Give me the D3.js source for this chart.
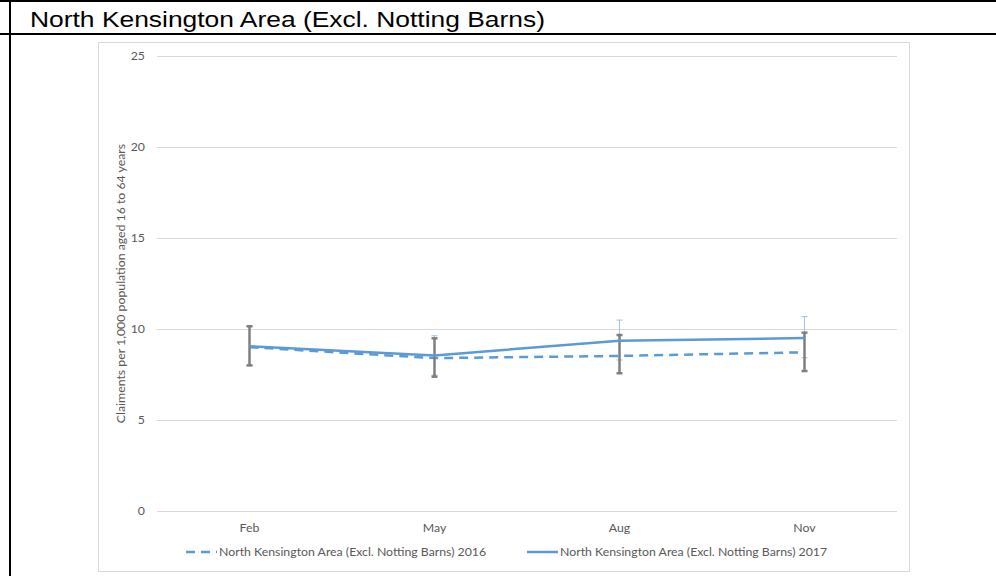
<!DOCTYPE html>
<html>
<head>
<meta charset="utf-8">
<script src="https://cdn.jsdelivr.net/npm/d3@7"></script>
<style>
  body { margin: 0; background: #fff; }
  svg { display: block; }
</style>
</head>
<body>
<script>
const title = 'North Kensington Area (Excl. Notting Barns)';
const months = ['Feb', 'May', 'Aug', 'Nov'];
const yTicks = [0, 5, 10, 15, 20, 25];
const seriesNames = [
  'North Kensington Area (Excl. Notting Barns) 2016',
  'North Kensington Area (Excl. Notting Barns) 2017'
];
const values2016 = [9.0, 8.4, 8.52, 8.72];
const values2017 = [9.05, 8.55, 9.35, 9.5];
const low2016 = [8.0, 7.38, 7.57, 7.69];
const high2016 = [10.15, 9.49, 9.67, 9.8];
const low2017 = [8.0, 7.47, 8.3, 8.42];
const high2017 = [10.15, 9.63, 10.49, 10.68];

const W = 996, H = 576;
const svg = d3.select('body').append('svg').attr('width', W).attr('height', H);

// table borders around the chart cell
svg.append('line').attr('x1', 0).attr('x2', W).attr('y1', 1).attr('y2', 1)
  .attr('stroke', '#000').attr('stroke-width', 2);
svg.append('line').attr('x1', 0).attr('x2', W).attr('y1', 34).attr('y2', 34)
  .attr('stroke', '#000').attr('stroke-width', 2);
svg.append('line').attr('x1', 10).attr('x2', 10).attr('y1', 0).attr('y2', H)
  .attr('stroke', '#000').attr('stroke-width', 2);
svg.append('text').attr('x', 30).attr('y', 27)
  .attr('font-family', 'Liberation Sans, Arial, sans-serif').attr('font-size', 22)
  .attr('textLength', 515).attr('lengthAdjust', 'spacingAndGlyphs')
  .attr('fill', '#000').text(title);

// chart area frame
svg.append('rect').attr('x', 98.5).attr('y', 42.5).attr('width', 811).attr('height', 529)
  .attr('fill', '#fff').attr('stroke', '#d9d9d9');

const font = 'Lato, "Open Sans", sans-serif';
const fs = 12.3;
const x = d3.scaleBand().domain(months).range([157, 897]);
const y = d3.scaleLinear().domain([0, 25]).range([511, 56]);
const cx = m => x(m) + x.bandwidth() / 2;

const yAxis = svg.append('g').attr('transform', 'translate(157,0)')
  .call(d3.axisLeft(y).tickValues(yTicks).tickSize(-740).tickPadding(12));
yAxis.select('.domain').remove();
yAxis.selectAll('.tick line').attr('stroke', '#d9d9d9');
yAxis.selectAll('.tick text').attr('fill', '#595959').attr('font-size', fs).attr('font-family', font);

const xAxis = svg.append('g').attr('transform', 'translate(0,511)')
  .call(d3.axisBottom(x).tickSize(0).tickPadding(12));
xAxis.select('.domain').remove();
xAxis.selectAll('.tick text').attr('fill', '#595959').attr('font-size', fs).attr('font-family', font);

svg.append('text')
  .attr('transform', `translate(125,${(56 + 511) / 2}) rotate(-90)`)
  .attr('text-anchor', 'middle').attr('fill', '#595959')
  .attr('font-size', fs).attr('font-family', font)
  .text('Claiments per 1,000 population aged 16 to 64 years');

function errorBars(lows, highs, color, width) {
  const g = svg.append('g').attr('stroke', color).attr('stroke-width', width);
  months.forEach((m, i) => {
    g.append('line').attr('x1', cx(m)).attr('x2', cx(m)).attr('y1', y(lows[i])).attr('y2', y(highs[i]));
    [lows[i], highs[i]].forEach(v => {
      g.append('line').attr('x1', cx(m) - 3).attr('x2', cx(m) + 3).attr('y1', y(v)).attr('y2', y(v));
    });
  });
}

const line = d3.line().x((d, i) => cx(months[i])).y(d => y(d));
svg.append('path').datum(values2016).attr('d', line).attr('fill', 'none')
  .attr('stroke', '#5b9bd5').attr('stroke-width', 2.5).attr('stroke-dasharray', '9,6');
errorBars(low2017, high2017, '#9dc3e6', 1);
errorBars(low2016, high2016, '#7f7f7f', 2.5);
svg.append('path').datum(values2017).attr('d', line).attr('fill', 'none')
  .attr('stroke', '#5b9bd5').attr('stroke-width', 2.5);

// legend
const legend = [
  { name: seriesNames[0], x: 186, dash: '9,6' },
  { name: seriesNames[1], x: 527, dash: null }
];
legend.forEach(l => {
  svg.append('line').attr('x1', l.x).attr('x2', l.x + 31).attr('y1', 552).attr('y2', 552)
    .attr('stroke', '#5b9bd5').attr('stroke-width', 2.5).attr('stroke-dasharray', l.dash);
  svg.append('text').attr('x', l.x + 33).attr('y', 556)
    .attr('fill', '#595959').attr('font-size', fs).attr('font-family', font).text(l.name);
});
</script>
</body>
</html>
